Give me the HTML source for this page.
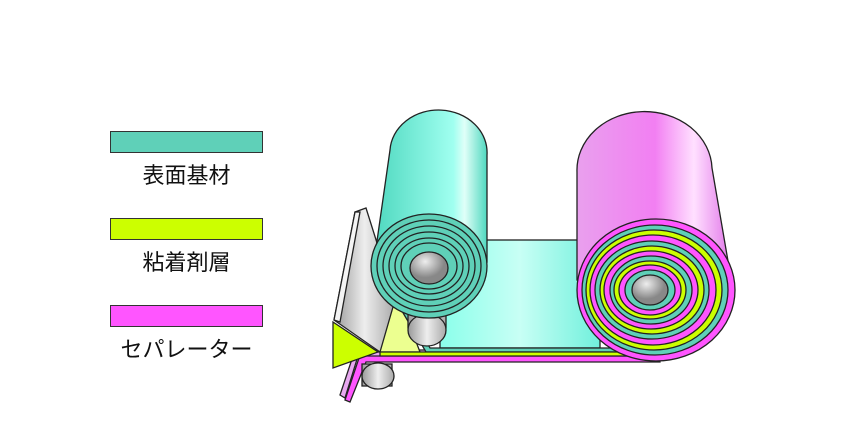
<!DOCTYPE html>
<html><head><meta charset="utf-8"><style>
body{margin:0;background:#fff;width:860px;height:439px;overflow:hidden}
.l{position:absolute;left:110px;width:153px;height:22px;border:1px solid #333;box-sizing:border-box}
.t{position:absolute;left:110px;width:153px;text-align:center;font:22px "Liberation Sans","Noto Sans CJK JP",sans-serif;color:#111}
</style></head><body>
<div class="l" style="top:131px;background:#5fd0b8"></div>
<div class="t" style="top:158px">表面基材</div>
<div class="l" style="top:218px;background:#ccff00"></div>
<div class="t" style="top:245px">粘着剤層</div>
<div class="l" style="top:305px;background:#ff55ff"></div>
<div class="t" style="top:332px">セパレーター</div>
<svg width="860" height="439" style="position:absolute;left:0;top:0">
<defs>
<linearGradient id="tg" x1="0" x2="1"><stop offset="0" stop-color="#4fd8bf"/><stop offset=".7" stop-color="#a0fff0"/><stop offset=".8" stop-color="#e0fff8"/><stop offset="1" stop-color="#4fd8bf"/></linearGradient>
<linearGradient id="mg" x1="0" x2="1"><stop offset="0" stop-color="#e9a0ee"/><stop offset=".5" stop-color="#f27ff2"/><stop offset=".75" stop-color="#ffe0ff"/><stop offset="1" stop-color="#e070e8"/></linearGradient>
<linearGradient id="sg" x1="0" x2="1"><stop offset="0" stop-color="#8affea"/><stop offset=".5" stop-color="#c8fff5"/><stop offset="1" stop-color="#70f0dc"/></linearGradient>
<linearGradient id="gg" x1="0" x2="1"><stop offset="0" stop-color="#999"/><stop offset=".5" stop-color="#eee"/><stop offset="1" stop-color="#aaa"/></linearGradient>
<radialGradient id="hg" cx=".4" cy=".3"><stop offset="0" stop-color="#eee"/><stop offset="1" stop-color="#888"/></radialGradient>
</defs>
<g stroke="#222" stroke-width="1.3">
<path d="M345 400 L360 355 L660 355 L660 362 L366 362 L350 402 Z" fill="#ff55ff"/>
<path d="M340 395 L355 350 L660 350 L660 356 L358 356 L345 398 Z" fill="#e8a8f0"/>
<rect x="362" y="364" width="30" height="22" fill="url(#gg)"/>
<ellipse cx="378" cy="376" rx="16" ry="13" fill="url(#gg)"/>
<path d="M333 322 L378 352 L333 368 Z" fill="#ccff00"/>
<path d="M378 300 L400 300 L420 352 L378 352 Z" fill="#ecff90"/>
<path d="M334 320 L355 212 L366 208 L395 300 L380 352 Z" fill="url(#gg)"/>
<path d="M334 320 L355 212 L360 212 L340 322 Z" fill="#f4f4f4"/>
<rect x="440" y="240" width="160" height="108" fill="url(#sg)"/>
<path d="M395 290 L430 348 L660 348 L660 352 L426 352 L392 294 Z" fill="#5fd0b8"/>
<path d="M380 352 L660 352 L660 356 L380 356 Z" fill="#ccff00"/>
<rect x="408" y="300" width="38" height="28" fill="url(#gg)"/>
<ellipse cx="427" cy="330" rx="19" ry="16" fill="url(#gg)"/>
<path d="M375 255 L390 150 A48 42 0 0 1 487 155 L487 262 Z" fill="url(#tg)"/>
<g fill="#5fd0b8">
<ellipse cx="429" cy="266" rx="58" ry="52"/>
<ellipse cx="429" cy="266" rx="52" ry="46"/>
<ellipse cx="429" cy="266" rx="46" ry="40"/>
<ellipse cx="429" cy="266" rx="40" ry="34"/>
<ellipse cx="429" cy="266" rx="34" ry="28"/>
<ellipse cx="429" cy="266" rx="28" ry="23"/>
</g>
<ellipse cx="429" cy="268" rx="19" ry="16" fill="url(#hg)"/>
<path d="M577 280 L577 172 A67 58 0 0 1 712 168 L733 290 Z" fill="url(#mg)"/>
<g>
<ellipse cx="656" cy="290" rx="79" ry="71" fill="#ff55ff"/>
<ellipse cx="655" cy="290" rx="73" ry="65" fill="#5fd0b8"/>
<ellipse cx="654" cy="290" rx="68" ry="60" fill="#ccff00"/>
<ellipse cx="653" cy="290" rx="63" ry="55" fill="#ff55ff"/>
<ellipse cx="652" cy="290" rx="57" ry="49" fill="#5fd0b8"/>
<ellipse cx="652" cy="290" rx="52" ry="44" fill="#ccff00"/>
<ellipse cx="651" cy="290" rx="47" ry="39" fill="#ff55ff"/>
<ellipse cx="651" cy="290" rx="41" ry="34" fill="#5fd0b8"/>
<ellipse cx="650" cy="290" rx="36" ry="29" fill="#ccff00"/>
<ellipse cx="650" cy="290" rx="31" ry="25" fill="#ff55ff"/>
<ellipse cx="650" cy="290" rx="25" ry="20" fill="#5fd0b8"/>
</g>
<ellipse cx="650" cy="290" rx="18" ry="15" fill="url(#hg)"/>
</g>
</svg>
</body></html>
